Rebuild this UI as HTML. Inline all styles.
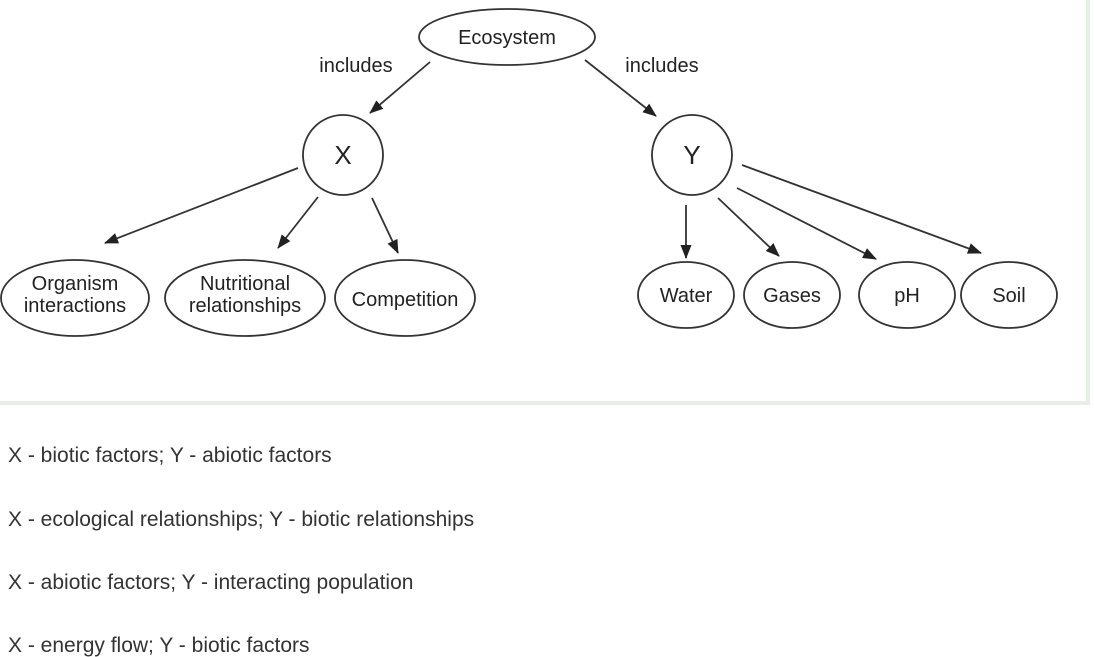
<!DOCTYPE html>
<html><head><meta charset="utf-8"><style>
html,body{margin:0;padding:0;background:#fff;width:1094px;height:657px;overflow:hidden;position:relative}
.box{position:absolute;left:-4px;top:-4px;width:1094px;height:409px;border:4px solid #e6eee6;box-sizing:border-box;background:#fff}
.opt{position:absolute;left:8px;font-family:"Liberation Sans",sans-serif;font-size:21px;color:#333;white-space:nowrap;line-height:24px}
</style></head><body>
<div class="box"></div>
<svg width="1094" height="410" style="position:absolute;left:0;top:0" font-family="Liberation Sans, sans-serif" fill="none" stroke="#333" stroke-width="1.8">
<defs><marker id="a" markerWidth="14" markerHeight="11" refX="13" refY="5.5" orient="auto" markerUnits="userSpaceOnUse"><path d="M0,0 L14,5.5 L0,11 Z" fill="#222" stroke="none"/></marker></defs>
<ellipse cx="507" cy="37" rx="88" ry="28"/>
<circle cx="343" cy="155" r="40"/>
<circle cx="692" cy="155" r="40"/>
<ellipse cx="75" cy="298" rx="74" ry="38"/>
<ellipse cx="245" cy="298" rx="80" ry="38"/>
<ellipse cx="405" cy="298" rx="70" ry="38"/>
<ellipse cx="686" cy="295" rx="48" ry="33"/>
<ellipse cx="792" cy="295" rx="48" ry="33"/>
<ellipse cx="907" cy="295" rx="48" ry="33"/>
<ellipse cx="1009" cy="295" rx="48" ry="33"/>
<g marker-end="url(#a)">
<line x1="430" y1="62" x2="370" y2="113"/>
<line x1="585" y1="60" x2="656" y2="116"/>
<line x1="298" y1="168" x2="105" y2="243"/>
<line x1="318" y1="197" x2="278" y2="248"/>
<line x1="372" y1="198" x2="398" y2="253"/>
<line x1="686" y1="205" x2="686" y2="258"/>
<line x1="718" y1="198" x2="779" y2="256"/>
<line x1="737" y1="188" x2="876" y2="259"/>
<line x1="742" y1="165" x2="981" y2="253"/>
</g>
<g fill="#222" stroke="none" font-size="20" text-anchor="middle">
<text x="507" y="44">Ecosystem</text>
<text x="356" y="72">includes</text>
<text x="662" y="72">includes</text>
<text x="343" y="164" font-size="26">X</text>
<text x="692" y="164" font-size="26">Y</text>
<text x="75" y="290">Organism</text>
<text x="75" y="312">interactions</text>
<text x="245" y="290">Nutritional</text>
<text x="245" y="312">relationships</text>
<text x="405" y="306">Competition</text>
<text x="686" y="302">Water</text>
<text x="792" y="302">Gases</text>
<text x="907" y="302">pH</text>
<text x="1009" y="302">Soil</text>
</g>
</svg>
<div class="opt" style="top:444px">X - biotic factors; Y - abiotic factors</div>
<div class="opt" style="top:508px">X - ecological relationships; Y - biotic relationships</div>
<div class="opt" style="top:571px">X - abiotic factors; Y - interacting population</div>
<div class="opt" style="top:634px">X - energy flow; Y - biotic factors</div>
</body></html>
